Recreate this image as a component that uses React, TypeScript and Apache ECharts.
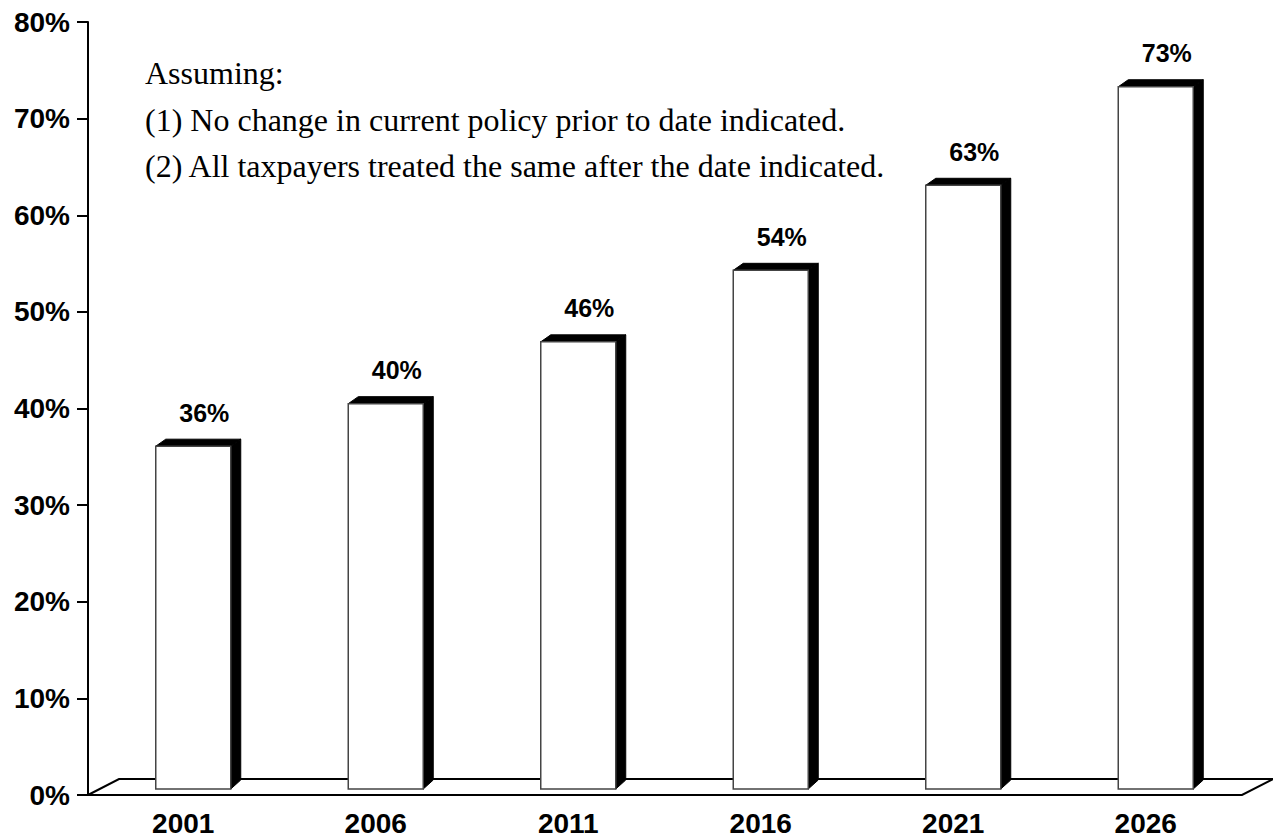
import React, { useEffect, useRef } from "react";
import * as echarts from "echarts";

const years = ["2001", "2006", "2011", "2016", "2021", "2026"];
const values = [36.1, 40.5, 46.9, 54.3, 63.1, 73.3];
const valueLabels = ["36%", "40%", "46%", "54%", "63%", "73%"];
const notes = [
  "Assuming:",
  "(1) No change in current policy prior to date indicated.",
  "(2) All taxpayers treated the same after the date indicated.",
];

const SANS = "'Liberation Sans', Arial, Helvetica, sans-serif";
const SERIF = "'Liberation Serif', 'Times New Roman', serif";

export default function App() {
  const ref = useRef<HTMLDivElement>(null);
  useEffect(() => {
    if (!ref.current) return;
    const chart = echarts.init(ref.current, null, { renderer: "svg" });
    const DX = 10;
    const DY = 7;
    const option: any = {
      animation: false,
      backgroundColor: "#ffffff",
      grid: { left: 97, right: 21, top: 22, bottom: 42 },
      xAxis: {
        type: "category",
        data: years,
        axisLine: { show: false },
        axisTick: { show: false },
        axisLabel: {
          color: "#000",
          fontFamily: SANS,
          fontWeight: "bold",
          fontSize: 28,
          margin: 14,
          padding: [0, 20, 0, 0],
        },
      },
      yAxis: {
        type: "value",
        min: 0,
        max: 80,
        interval: 10,
        offset: 9,
        splitLine: { show: false },
        axisLine: { show: true, lineStyle: { color: "#000", width: 2 } },
        axisTick: { show: true, length: 11, lineStyle: { color: "#000", width: 2 } },
        axisLabel: {
          color: "#000",
          fontFamily: SANS,
          fontWeight: "bold",
          fontSize: 28,
          margin: 18,
          formatter: "{value}%",
        },
      },
      graphic: [
        {
          type: "polygon",
          z: 0,
          shape: { points: [[88, 795], [119, 779], [1273, 779], [1242, 795]] },
          style: { fill: "#fff", stroke: "#000", lineWidth: 2 },
        },
        ...notes.map((t, i) => ({
          type: "text",
          z: 1,
          x: 145,
          y: 73 + i * 46.5,
          style: {
            text: t,
            fontFamily: SERIF,
            fontSize: 32,
            fill: "#000",
            textVerticalAlign: "middle",
            textAlign: "left",
          },
        })),
      ],
      series: [
        {
          type: "custom",
          z: 5,
          data: values.map((v, i) => [i, v]),
          renderItem: (params: any, api: any) => {
            const i = api.value(0);
            const v = api.value(1);
            const top = api.coord([i, v]);
            const base = api.coord([i, 0]);
            const w = 75;
            const x = top[0] - w / 2;
            const ty = top[1];
            const by = base[1] - 6;
            return {
              type: "group",
              children: [
                {
                  type: "polygon",
                  shape: { points: [[x + w, ty], [x + w + DX, ty - DY], [x + w + DX, by - DY - 2], [x + w, by]] },
                  style: { fill: "#000", stroke: "#000", lineWidth: 1 },
                },
                {
                  type: "polygon",
                  shape: { points: [[x, ty], [x + DX, ty - DY], [x + w + DX, ty - DY], [x + w, ty]] },
                  style: { fill: "#000", stroke: "#000", lineWidth: 1 },
                },
                {
                  type: "rect",
                  shape: { x: x, y: ty, width: w, height: by - ty },
                  style: { fill: "#fff", stroke: "#444", lineWidth: 1.5 },
                },
                {
                  type: "text",
                  x: top[0] + 11,
                  y: ty - DY - 14,
                  style: {
                    text: valueLabels[params.dataIndex],
                    fontFamily: SANS,
                    fontWeight: "bold",
                    fontSize: 25,
                    fill: "#000",
                    textAlign: "center",
                    textVerticalAlign: "bottom",
                  },
                },
              ],
            };
          },
        },
      ],
    };
    chart.setOption(option);
    return () => chart.dispose();
  }, []);
  return (
    <div
      ref={ref}
      style={{ width: 1273, height: 837, position: "absolute", left: 0, top: 0 }}
    />
  );
}
